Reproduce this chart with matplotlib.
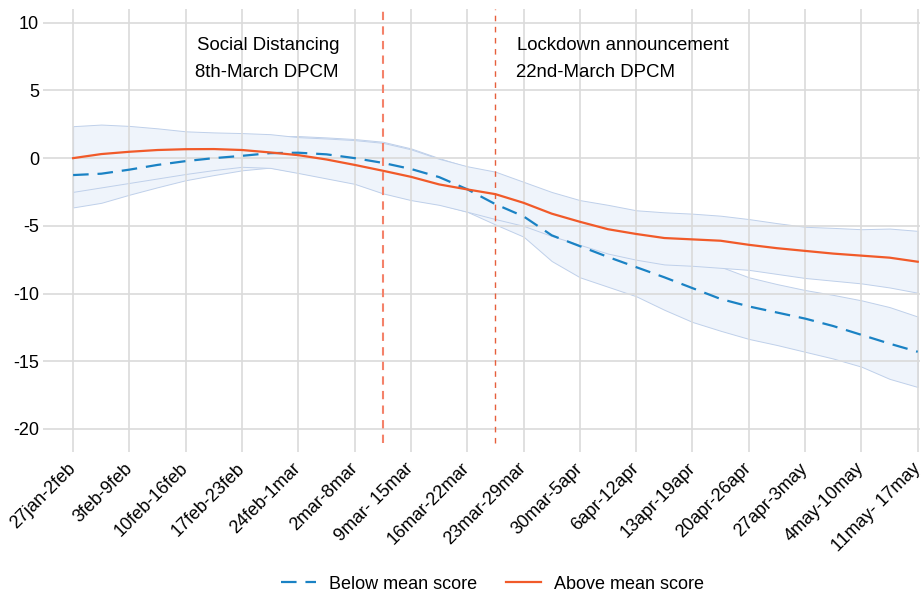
import matplotlib
matplotlib.use("Agg")
import matplotlib.pyplot as plt
import numpy as np

plt.rcParams['font.family'] = ['Liberation Sans', 'DejaVu Sans']

weeks = ['27jan-2feb', '3feb-9feb', '10feb-16feb', '17feb-23feb', '24feb-1mar',
         '2mar-8mar', '9mar- 15mar', '16mar-22mar', '23mar-29mar', '30mar-5apr',
         '6apr-12apr', '13apr-19apr', '20apr-26apr', '27apr-3may', '4may-10may',
         '11may- 17may']

# half-week sampling positions (0 = 27jan-2feb)
t = np.arange(0, 15.01, 0.5)

above = [0.0, 0.3, 0.47, 0.6, 0.66, 0.67, 0.6, 0.42, 0.22, -0.1, -0.5,
         -0.93, -1.38, -1.94, -2.31, -2.66, -3.3, -4.1, -4.7, -5.25, -5.6,
         -5.9, -6.0, -6.1, -6.4, -6.65, -6.85, -7.05, -7.2, -7.35, -7.65]
above_hi = [2.36, 2.48, 2.38, 2.2, 1.98, 1.9, 1.85, 1.77, 1.55, 1.45, 1.33,
            1.13, 0.65, -0.05, -0.6, -1.0, -1.75, -2.5, -3.1, -3.45, -3.85,
            -4.0, -4.1, -4.25, -4.5, -4.8, -5.07, -5.15, -5.25, -5.2, -5.37]
above_lo = [-2.49, -2.16, -1.83, -1.5, -1.17, -0.88, -0.64, -0.72, -1.1, -1.5,
            -1.9, -2.6, -3.1, -3.45, -3.96, -4.5, -5.0, -5.75, -6.4, -7.05,
            -7.5, -7.85, -7.95, -8.1, -8.25, -8.55, -8.85, -9.05, -9.25, -9.55,
            -9.94]

below = [-1.25, -1.15, -0.85, -0.5, -0.22, 0.0, 0.17, 0.37, 0.4, 0.28, 0.0,
         -0.35, -0.8, -1.4, -2.3, -3.4, -4.3, -5.7, -6.5, -7.3, -8.05, -8.8,
         -9.6, -10.4, -10.95, -11.4, -11.85, -12.4, -13.05, -13.7, -14.3]
below_hi = [1.15, 1.3, 1.45, 1.55, 1.6, 1.6, 1.6, 1.6, 1.63, 1.53, 1.41, 1.21,
            0.72, 0.0, -0.65, -1.3, -2.2, -3.3, -4.2, -5.0, -5.9, -6.6, -7.4,
            -8.02, -8.8, -9.3, -9.74, -10.1, -10.5, -11.0, -11.7]
below_lo = [-3.64, -3.3, -2.7, -2.15, -1.63, -1.25, -0.9, -0.7, -1.05, -1.45,
            -1.85, -2.55, -3.05, -3.4, -3.96, -4.9, -5.8, -7.6, -8.8, -9.5,
            -10.2, -11.2, -12.1, -12.75, -13.35, -13.8, -14.3, -14.8, -15.4,
            -16.3, -16.9]

events = [5.5, 7.5]

fig = plt.figure(figsize=(9.21, 5.92), dpi=100)
ax = fig.add_axes([0.0543, 0.2365, 0.9446, 0.748])

band_fill = '#eff4fb'
band_edge = '#bfd0ea'
ax.fill_between(t, below_lo, below_hi, facecolor=band_fill, edgecolor=band_edge,
                linewidth=0.7, zorder=1)
ax.fill_between(t, above_lo, above_hi, facecolor=band_fill, edgecolor=band_edge,
                linewidth=0.7, zorder=1.1)

ax.plot(t, below, color='#1a82c4', lw=1.6, linestyle=(0, (7, 4)), zorder=3,
        label='Below mean score')
ax.plot(t, above, color='#f15a29', lw=1.6, zorder=3, label='Above mean score')

ax.vlines(events[0], -21.0, 11.0, colors='#f4826a', lw=1.5,
          linestyles=(0, (4, 3)), zorder=2)
ax.vlines(events[1], -21.0, 11.0, colors='#e65f3c', lw=1.0,
          linestyles=(0, (4, 4)), zorder=2)

ax.text(3.46, 8.35, 'Social Distancing', ha='center', va='center', fontsize=13.4)
ax.text(3.44, 6.36, '8th-March DPCM', ha='center', va='center', fontsize=13.4)
ax.text(7.89, 8.35, 'Lockdown announcement', ha='left', va='center', fontsize=13.4)
ax.text(7.87, 6.36, '22nd-March DPCM', ha='left', va='center', fontsize=13.4)

ax.set_xlim(-0.41, 15.04)
ax.set_ylim(-21.7, 11.0)
ax.set_xticks(range(len(weeks)))
ax.set_xticklabels(weeks, rotation=45, ha='right', va='center',
                   rotation_mode='anchor', fontsize=13)
ax.set_yticks([10, 5, 0, -5, -10, -15, -20])
ax.set_yticklabels(['10', '5', '0', '-5', '-10', '-15', '-20'], fontsize=13)
ax.tick_params(axis='x', length=0, pad=10)
ax.tick_params(axis='y', length=5, width=1.2, color='#d9d9d9', pad=3)

ax.set_axisbelow('line')
ax.grid(True, color='#dadada', lw=1.2)
for s in ax.spines.values():
    s.set_visible(False)

fig.legend(loc='center', bbox_to_anchor=(0.535, 0.013), ncol=2, frameon=False,
           fontsize=13, handlelength=1.9, handletextpad=0.75, columnspacing=1.6)

fig.savefig('out.png', dpi=100)
